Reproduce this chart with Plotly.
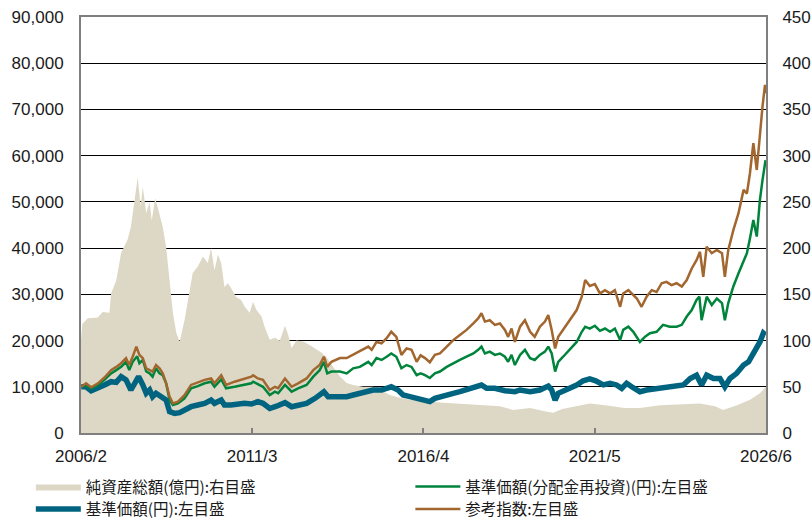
import plotly.graph_objects as go

# ---------------- data ----------------
tick_dates = ["2006-02-01", "2011-03-01", "2016-04-01", "2021-05-01", "2026-06-01"]
tick_labels = ["2006/2", "2011/3", "2016/4", "2021/5", "2026/6"]
left_ticks = list(range(0, 90001, 10000))
right_ticks = list(range(0, 451, 50))

# 純資産総額(億円) -- right axis
area_dates = ["2006-02-01","2006-02-15","2006-04-15","2006-08-01","2006-09-24","2006-12-06","2006-12-24","2007-02-18","2007-04-12","2007-06-21",
              "2007-07-27","2007-09-03","2007-10-09","2007-11-09","2007-12-03","2008-01-09","2008-02-15","2008-03-09","2008-04-15","2008-05-21",
              "2008-07-06","2008-08-12","2008-09-18","2008-10-24","2008-12-01","2009-01-06","2009-02-27","2009-04-21","2009-05-27","2009-07-21",
              "2009-09-15","2009-11-06","2009-12-12","2010-01-18","2010-02-24","2010-04-01","2010-05-06","2010-06-12","2010-07-15","2010-09-09",
              "2010-11-03","2010-12-09","2011-02-03","2011-03-12","2011-04-18","2011-06-12","2011-07-15","2011-09-09","2011-11-03","2011-12-27",
              "2012-02-21","2012-03-27","2012-05-03","2012-06-24","2012-09-06","2012-11-18","2013-02-01","2013-03-21","2013-05-15","2013-07-27",
              "2013-10-09","2013-12-21","2014-03-01","2014-06-18","2014-10-03","2015-01-21","2015-04-03","2015-07-18","2015-11-06","2016-02-24",
              "2016-06-09","2016-09-27","2017-08-18","2018-07-09","2018-11-27","2019-06-01","2019-12-01","2020-02-06","2020-05-15","2020-11-24",
              "2021-03-09","2021-08-21","2022-03-24","2022-09-03","2023-04-09","2024-06-15","2024-11-27","2025-02-21","2025-07-21","2025-12-09",
              "2026-03-27","2026-06-01"]
area_values = [100,118,124,125,131,130,151,165,195,209,
               223,252,277,245,266,238,250,230,254,241,
               223,201,165,130,108,99,122,151,173,180,
               191,184,200,176,193,184,158,162,157,147,
               144,137,130,142,133,126,115,101,103,100,
               116,106,92,100,99,95,90,87,82,72,
               61,54,52,50,50,45,41,38,36,36,
               34,33,31,29,25,27,23,22,26,30,
               32,30,27,27,30,32,29,25,30,36,
               43,50]

# 基準価額(円) -- left axis
nav_dates = ["2006-02-04","2006-03-28","2006-05-22","2006-08-04","2006-10-13","2006-12-24","2007-02-18","2007-04-12","2007-06-04","2007-07-27",
             "2007-09-21","2007-10-18","2007-12-03","2008-01-09","2008-02-15","2008-03-18","2008-04-24","2008-06-01","2008-07-06","2008-08-12",
             "2008-09-18","2008-11-12","2009-01-06","2009-02-27","2009-05-09","2009-07-21","2009-10-03","2009-12-12","2010-01-18","2010-04-01",
             "2010-05-06","2010-07-15","2010-09-27","2010-12-09","2011-02-21","2011-05-03","2011-06-27","2011-09-09","2011-11-21","2012-02-21",
             "2012-05-03","2012-07-12","2012-10-12","2013-01-12","2013-03-03","2013-04-18","2013-06-03","2013-09-01","2013-12-21","2014-03-01",
             "2014-06-18","2014-10-03","2015-01-03","2015-04-18","2015-07-01","2015-08-24","2015-11-06","2016-01-18","2016-03-27","2016-06-09",
             "2016-08-03","2016-09-27","2016-12-09","2017-02-18","2017-05-01","2017-07-12","2017-09-24","2017-12-21","2018-02-15","2018-05-15",
             "2018-09-01","2018-12-18","2019-02-12","2019-06-01","2019-09-15","2019-12-15","2020-01-21","2020-02-27","2020-04-01","2020-07-01",
             "2020-10-18","2020-12-27","2021-03-09","2021-05-12","2021-06-27","2021-08-03","2021-10-15","2021-12-24","2022-02-18","2022-04-12",
             "2022-06-06","2022-09-03","2022-11-15","2023-03-03","2023-06-18","2023-10-06","2023-12-18","2024-03-01","2024-05-09","2024-07-03",
             "2024-08-27","2024-11-09","2025-01-18","2025-03-12","2025-05-06","2025-07-18","2025-10-01","2025-11-24","2026-01-15","2026-02-21",
             "2026-03-27","2026-05-03","2026-05-27"]
nav_values = [10000,10000,9150,9660,10400,11100,10950,12200,11500,9300,
              11500,12200,10400,8600,9300,7860,8600,8200,7860,7140,
              4610,4250,4400,4970,5690,6060,6420,7140,6420,7140,
              6060,6060,6280,6420,6280,6780,6420,5300,5800,6560,
              5690,6060,6420,7500,8220,8930,7860,7860,7860,8220,
              8720,9300,9300,10000,9300,8220,7860,7500,7300,6780,
              7500,7860,8220,8580,8930,9300,9660,10380,9660,9660,
              9150,8930,9300,8930,9300,10150,9300,7140,8580,9300,
              10380,11300,11700,11300,10750,10400,10750,10400,9660,10750,
              10000,8930,9300,9660,10000,10400,10400,11800,12500,10400,
              12500,11800,11800,10000,11800,12900,14700,15400,17200,18000,
              19700,21600,21200]

# 基準価額(分配金再投資)(円) -- left axis
reinv_dates = ["2006-02-04","2006-03-28","2006-05-22","2006-08-04","2006-10-13","2006-12-24","2007-02-18","2007-04-12","2007-06-04","2007-07-09",
               "2007-08-15","2007-10-03","2007-10-27","2007-12-03","2008-01-09","2008-02-15","2008-03-18","2008-04-24","2008-06-01","2008-07-06",
               "2008-08-12","2008-09-18","2008-10-24","2008-12-18","2009-02-27","2009-05-09","2009-07-21","2009-10-03","2009-12-12","2010-01-18",
               "2010-04-01","2010-05-24","2010-08-24","2010-12-09","2011-02-21","2011-03-12","2011-05-03","2011-06-27","2011-09-09","2011-11-03",
               "2011-12-09","2012-02-21","2012-05-03","2012-07-12","2012-10-12","2012-12-24","2013-03-03","2013-04-18","2013-05-24","2013-07-09",
               "2013-10-09","2013-12-21","2014-03-01","2014-05-12","2014-08-12","2014-09-18","2014-11-09","2015-01-03","2015-02-27","2015-04-18",
               "2015-06-12","2015-08-06","2015-10-01","2015-11-24","2016-01-18","2016-03-01","2016-04-18","2016-06-09","2016-08-03","2016-09-27",
               "2016-12-09","2017-02-18","2017-05-01","2017-07-12","2017-09-24","2017-11-15","2017-12-21","2018-01-27","2018-03-21","2018-05-15",
               "2018-07-09","2018-09-01","2018-10-06","2018-11-12","2018-12-18","2019-02-12","2019-04-06","2019-06-01","2019-07-21","2019-09-15",
               "2019-11-09","2019-12-15","2020-01-21","2020-02-27","2020-04-01","2020-05-24","2020-08-06","2020-10-18","2020-12-12","2021-01-18",
               "2021-03-09","2021-05-03","2021-06-27","2021-08-21","2021-10-15","2021-12-06","2022-02-01","2022-03-06","2022-05-01","2022-06-24",
               "2022-09-03","2022-10-27","2022-12-21","2023-03-03","2023-05-12","2023-07-24","2023-10-06","2023-12-01","2024-01-24","2024-03-18",
               "2024-05-09","2024-06-09","2024-07-03","2024-08-27","2024-10-21","2024-12-15","2025-02-09","2025-03-12","2025-04-18","2025-06-12",
               "2025-08-06","2025-10-01","2025-11-06","2025-12-09","2026-01-15","2026-02-21","2026-03-27","2026-04-24","2026-05-27"]
reinv_values = [10000,10300,9660,10400,11500,12900,13600,14300,15400,13600,
                15400,16600,15100,15800,13300,12900,12200,14000,12900,12500,
                10750,7140,6060,6420,7500,9660,10150,10750,11100,10000,
                11600,9660,10000,10400,10750,11100,10600,10000,8200,8930,
                8600,10400,8930,9660,10400,12200,13600,15400,12900,13300,
                13300,12900,14000,14300,15400,14700,16200,15800,16500,17200,
                16500,14000,14700,14300,12500,12900,12500,11900,12900,13300,
                14300,15100,15800,16500,17200,18000,18700,17200,17600,16900,
                17200,16500,15400,16900,14700,16900,18000,16200,15800,16900,
                17600,18700,17200,13300,15400,16500,18000,19700,21900,23000,
                22600,23200,22100,22600,21900,22600,20100,22300,23000,21900,
                19700,20800,21600,21900,23400,23000,23000,23400,25200,26600,
                28800,29500,24400,29500,27700,29100,28100,24400,28100,31700,
                34500,37400,38900,42100,46100,42500,50400,54700,59000]

# 参考指数 -- left axis
bench_dates = ["2006-02-04","2006-03-28","2006-05-22","2006-08-04","2006-10-13","2006-12-24","2007-02-18","2007-04-12","2007-06-04","2007-07-09",
               "2007-08-15","2007-09-24","2007-10-27","2007-12-03","2008-01-09","2008-02-15","2008-03-18","2008-04-24","2008-06-01","2008-07-06",
               "2008-08-12","2008-09-18","2008-10-24","2008-12-18","2009-02-27","2009-05-09","2009-07-21","2009-10-03","2009-12-12","2010-01-18",
               "2010-04-01","2010-05-24","2010-08-24","2010-12-09","2011-02-21","2011-03-12","2011-05-03","2011-06-27","2011-09-09","2011-11-03",
               "2011-12-09","2012-02-21","2012-05-03","2012-07-12","2012-10-12","2012-12-24","2013-03-03","2013-04-18","2013-05-24","2013-07-09",
               "2013-10-09","2013-12-21","2014-03-01","2014-05-12","2014-08-12","2014-09-18","2014-11-09","2015-01-03","2015-02-27","2015-04-18",
               "2015-06-12","2015-08-06","2015-10-01","2015-11-24","2016-01-18","2016-03-01","2016-04-18","2016-06-09","2016-08-03","2016-09-27",
               "2016-12-09","2017-02-18","2017-05-01","2017-07-12","2017-09-24","2017-11-15","2017-12-21","2018-01-27","2018-03-21","2018-05-15",
               "2018-07-09","2018-09-01","2018-10-06","2018-11-12","2018-12-18","2019-02-12","2019-04-06","2019-06-01","2019-07-21","2019-09-15",
               "2019-11-09","2019-12-15","2020-01-21","2020-02-27","2020-04-01","2020-05-24","2020-08-06","2020-10-18","2020-12-12","2021-01-18",
               "2021-03-09","2021-05-03","2021-06-27","2021-08-21","2021-10-15","2021-12-06","2022-02-01","2022-03-06","2022-05-01","2022-06-06",
               "2022-08-01","2022-09-21","2022-11-15","2023-01-09","2023-03-03","2023-04-27","2023-06-18","2023-08-12","2023-10-06","2023-12-01",
               "2024-01-24","2024-03-18","2024-05-09","2024-06-15","2024-07-21","2024-08-27","2024-10-21","2024-12-15","2025-02-09","2025-03-12",
               "2025-04-18","2025-06-12","2025-08-06","2025-10-01","2025-11-06","2025-12-09","2026-01-15","2026-02-21","2026-03-27","2026-04-24",
               "2026-05-21","2026-05-27"]
bench_values = [10000,10750,9900,10750,12000,13600,14300,15100,16200,14700,
                16500,18700,16900,16200,14000,13600,13300,14700,14000,12900,
                10750,7860,6420,6780,8200,10400,10950,11500,11800,10750,
                12500,10400,11100,11800,12200,12500,11800,11500,9300,10000,
                9700,11800,10000,10750,11800,13600,14700,16500,14300,15400,
                16200,16200,16900,17600,18700,18000,19700,19400,20500,21900,
                20800,16900,18300,18000,15400,16800,16200,15300,16900,17200,
                18700,20100,21200,22300,23700,24800,25900,24100,24400,23400,
                23700,22300,20800,22600,19700,23000,24400,21900,20800,23000,
                24100,25500,22300,18300,20800,22300,24400,26600,29500,33100,
                31800,32200,30200,30900,30200,30900,27300,30200,30900,30200,
                29100,27300,29500,30900,30500,32400,32700,32000,32400,31700,
                33100,35600,37400,39200,33800,40300,38900,39600,38900,33800,
                39600,43900,47500,52600,51800,56200,62700,56900,64800,70600,
                75300,73500]

# ---------------- style ----------------
AREA_COLOR = "#DDD8C5"
NAV_COLOR = "#006480"
REINV_COLOR = "#00843C"
BENCH_COLOR = "#A2662F"
AXIS_GRAY = "#7F7F7F"
TICK_FONT = dict(family="Liberation Sans, Arial, sans-serif", size=17, color="#1A1A1A")
XTICK_FONT = dict(family="Liberation Sans, Arial, sans-serif", size=17, color="#1A1A1A")
LEGEND_FONT = dict(family="Noto Sans CJK JP, sans-serif", size=15.5, color="#1A1A1A")

fig = go.Figure()
fig.add_trace(go.Scatter(x=area_dates, y=area_values, name="純資産総額(億円):右目盛",
                         mode="lines", fill="tozeroy", fillcolor=AREA_COLOR,
                         line=dict(width=0, color=AREA_COLOR), yaxis="y", legend="legend"))
fig.add_trace(go.Scatter(x=nav_dates, y=nav_values, name="基準価額(円):左目盛",
                         mode="lines", line=dict(width=5.5, color=NAV_COLOR), yaxis="y2", legend="legend3"))
fig.add_trace(go.Scatter(x=reinv_dates, y=reinv_values, name="基準価額(分配金再投資)(円):左目盛",
                         mode="lines", line=dict(width=2.5, color=REINV_COLOR), yaxis="y2", legend="legend2"))
fig.add_trace(go.Scatter(x=bench_dates, y=bench_values, name="参考指数:左目盛",
                         mode="lines", line=dict(width=2.5, color=BENCH_COLOR), yaxis="y2", legend="legend4"))

def legend_box(x, y):
    return dict(orientation="v", xref="container", yref="container", x=x, y=y,
                xanchor="left", yanchor="middle", font=LEGEND_FONT, itemwidth=45,
                bgcolor="rgba(0,0,0,0)", borderwidth=0)

fig.update_layout(
    width=811, height=519,
    margin=dict(l=81, r=45, t=17, b=86, autoexpand=False),
    paper_bgcolor="white", plot_bgcolor="white",
    showlegend=True,
    legend=legend_box(0.038, 0.0617),
    legend2=legend_box(0.506, 0.0617),
    legend3=legend_box(0.038, 0.0183),
    legend4=legend_box(0.506, 0.0183),
    xaxis=dict(type="date", range=[tick_dates[0], tick_dates[-1]],
               tickvals=tick_dates, ticktext=tick_labels, tickfont=XTICK_FONT,
               ticks="inside", ticklen=5, tickcolor=AXIS_GRAY, tickwidth=1.5,
               showgrid=False, zeroline=False, automargin=False,
               showline=True, linecolor=AXIS_GRAY, linewidth=2, mirror=True,
               ticklabelstandoff=7),
    yaxis=dict(range=[0, 450], tickvals=right_ticks, side="right", tickfont=TICK_FONT,
               showgrid=True, gridcolor="#000000", gridwidth=1, automargin=False,
               zeroline=False, showline=True, linecolor=AXIS_GRAY, linewidth=2,
               ticks="", ticklabelstandoff=11),
    yaxis2=dict(range=[0, 90000], tickvals=left_ticks, tickformat=",d", side="left",
                overlaying="y", tickfont=TICK_FONT, showgrid=False, zeroline=False,
                showline=True, linecolor=AXIS_GRAY, linewidth=2, automargin=False,
                ticks="", ticklabelstandoff=12),
)

fig.write_html("out.html", config={"displayModeBar": False},
               post_script="document.body.style.margin='0px';")
